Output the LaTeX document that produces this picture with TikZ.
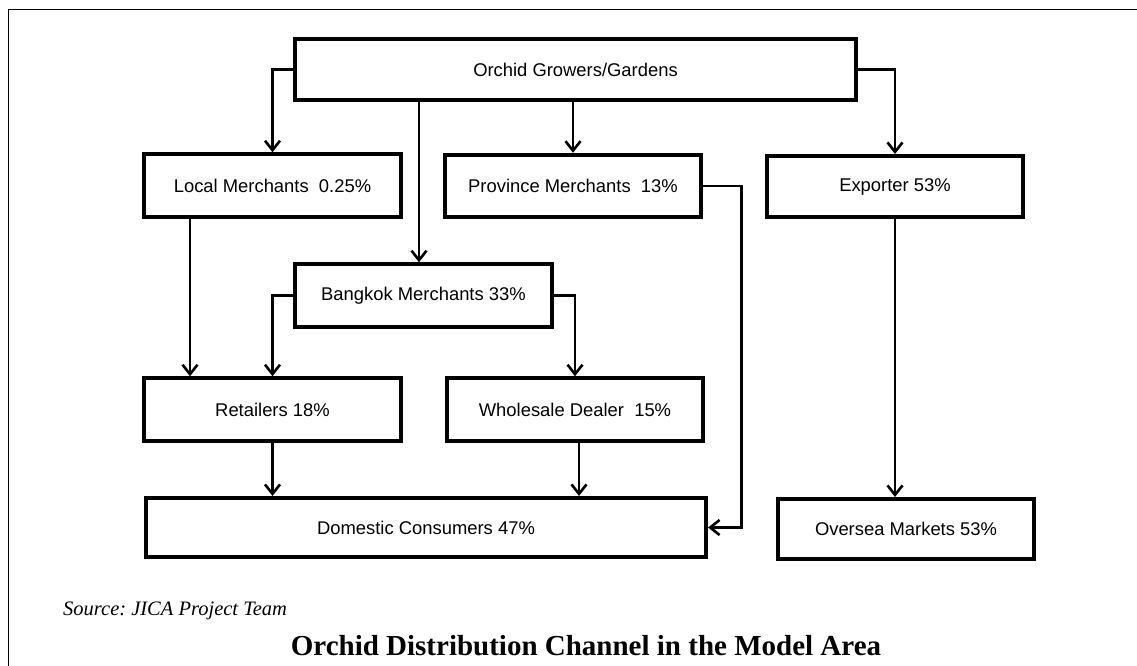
\documentclass[tikz,border=0pt]{standalone}
\usepackage{fontspec}
\setmainfont{Liberation Serif}
\setsansfont{Liberation Sans}
\usetikzlibrary{arrows.meta}

\tikzset{
  box/.style={draw,line width=3.8pt,minimum width=256.6pt,minimum height=62.6pt,inner sep=0pt,
    font=\sffamily\fontsize{18.4}{22}\selectfont},
  flow/.style={->,line width=2.6pt},
}

\begin{document}
\begin{tikzpicture}[x=1pt,y=-1pt,>={Straight Barb[length=9.5pt,width=15pt]}]
\useasboundingbox (0,0) rectangle (1137,666);
\draw[line width=1pt] (8,666) -- (8,10) -- (1137,10);

\node[box,minimum width=561.2pt,minimum height=61.2pt] (grow) at (575.5,69.5) {Orchid Growers/Gardens};
\node[box] (local) at (272.5,185.5) {Local Merchants~~0.25\%};
\node[box] (prov) at (573,186) {Province Merchants~~13\%};
\node[box,minimum height=61.2pt] (exp) at (895,186.5) {Exporter 53\%};
\node[box] (bkk) at (423.5,295.5) {Bangkok Merchants 33\%};
\node[box] (ret) at (272.5,409.5) {Retailers 18\%};
\node[box] (whole) at (575,409.5) {Wholesale Dealer~~15\%};
\node[box,minimum width=560.2pt,minimum height=59.2pt] (dom) at (426,527.5) {Domestic Consumers 47\%};
\node[box,minimum height=60.2pt] (ovs) at (906,529) {Oversea Markets 53\%};

\draw[flow] (grow.west) -| (local.north);
\draw[flow] ([xshift=-4.5pt]bkk.north |- grow.south) -- ([xshift=-4.5pt]bkk.north);
\draw[flow] (prov.north |- grow.south) -- (prov.north);
\draw[flow] (grow.east) -| (exp.north);
\draw[flow] ([xshift=-82.5pt]local.south) -- ([xshift=-82.5pt]ret.north);
\draw[flow] (bkk.west) -| (ret.north);
\draw[flow] (bkk.east) -| (whole.north);
\draw[flow] (ret.south) -- (ret.south |- dom.north);
\draw[flow] ([xshift=4pt]whole.south) -- ([xshift=4pt]whole.south |- dom.north);
\draw[flow] (prov.east) -- ++(38,0) |- (dom.east);
\draw[flow] (exp.south) -- (exp.south |- ovs.north);

\node[anchor=base west,inner sep=0pt,font=\itshape\fontsize{20.5}{24}\selectfont] (src) at (63,615) {Source:\ JICA Project Team};
\node[anchor=base,inner sep=0pt,font=\bfseries\fontsize{29}{33}\selectfont] (title) at (586,655) {Orchid Distribution Channel in the Model Area};
\end{tikzpicture}
\end{document}
